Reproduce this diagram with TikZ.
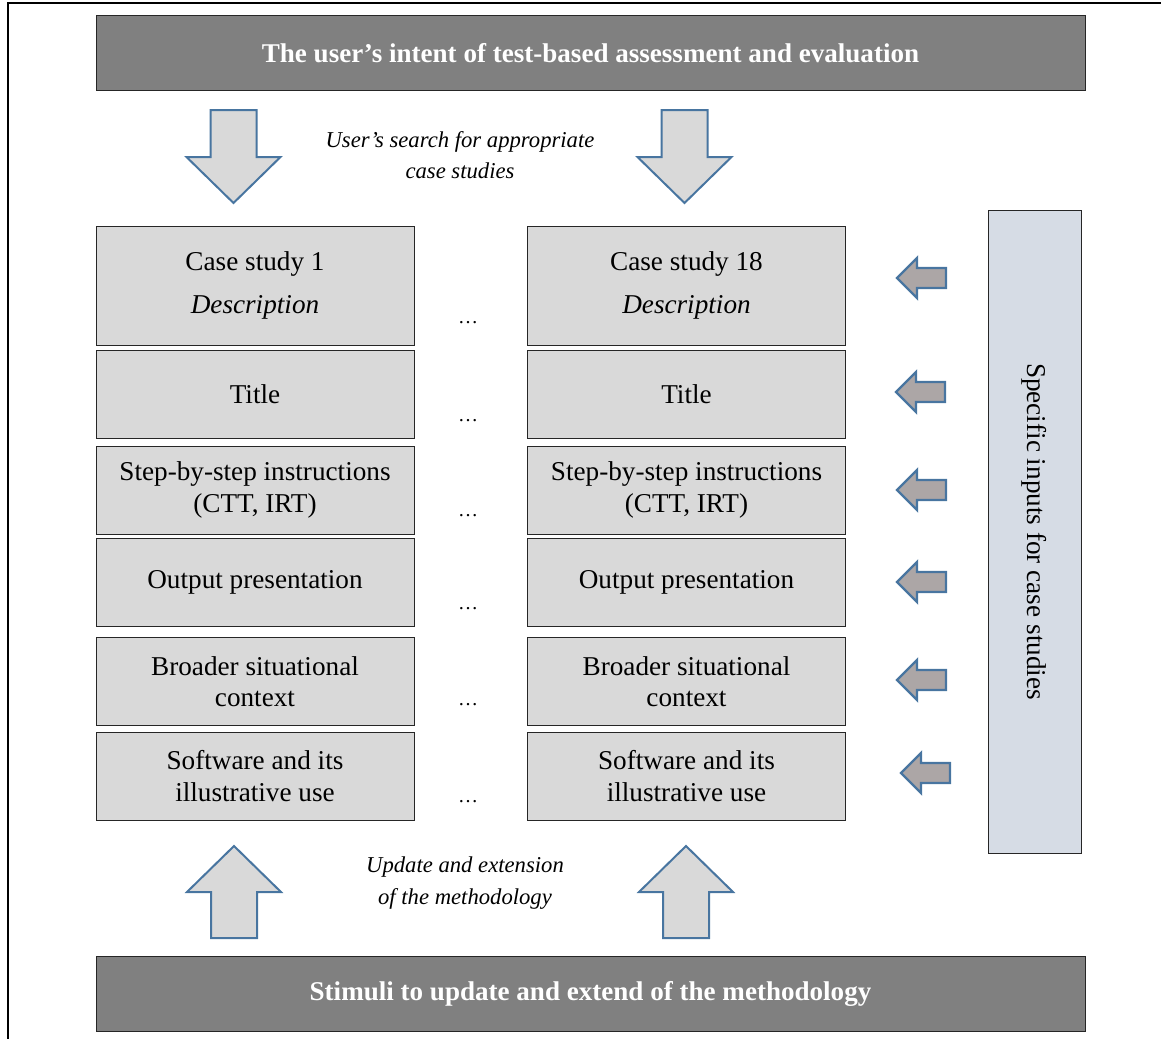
\documentclass[tikz,border=0pt]{standalone}
\usepackage{fontspec}
\setmainfont{Liberation Serif}
\usetikzlibrary{calc}
\definecolor{barGray}{RGB}{128,128,128}
\definecolor{boxGray}{RGB}{217,217,217}
\definecolor{panelBlue}{RGB}{214,220,229}
\definecolor{arrowBlue}{RGB}{72,117,160}
\definecolor{tipGray}{RGB}{172,166,166}

\begin{document}
\begin{tikzpicture}[x=0.75pt,y=-0.75pt,
    bar/.style={draw=black!85,fill=barGray,text=white,minimum width=741.75pt,minimum height=56.5pt,
      font=\fontsize{20.3}{24}\selectfont\bfseries},
    casebox/.style={draw=black!85,fill=boxGray,minimum width=238.5pt,minimum height=66pt,align=center,
      font=\fontsize{20.4}{23.5}\selectfont},
    bigarrow/.style={draw=arrowBlue,line width=1.5pt,fill=boxGray,line join=miter},
    smallarrow/.style={draw=arrowBlue,line width=1.8pt,fill=tipGray,line join=miter},
    note/.style={align=center,font=\fontsize{17}{23.5}\selectfont\itshape}]
  \useasboundingbox (0,0) rectangle (1161,1039);
  % outer frame
  \draw[line width=1pt] (1161,3) -- (8,3) -- (8,1039);

  \node[bar] (intent) at (590.5,53) {The user’s intent of test-based assessment and evaluation};
  \node[bar] (stimuli) at (590.5,993.5) {Stimuli to update and extend of the methodology};

  % columns of case studies
  \foreach \side/\num/\xc in {L/1/255,R/18/686.5}{
    \node[casebox,minimum height=89.25pt] (\side1) at (\xc,285.5) {Case study \num\\[8.5pt]\textit{Description}};
    \foreach \yc/\txt [count=\i from 2] in {394/Title,490/{Step-by-step instructions\\(CTT, IRT)},
        582/Output presentation,681.5/{Broader situational\\context},776/{Software and its\\illustrative use}}
      \node[casebox] (\side\i) at (\xc,\yc) {\txt};
  }
  \foreach \yc [count=\i] in {323,421,516,609,705,802}
    \node[font=\fontsize{15}{18}\selectfont] (dots\i) at (468,\yc) {\ldots};

  % big block arrows
  \foreach \xc in {233.5,684.5}
    \draw[bigarrow] (\xc-23,110) -- (\xc+23,110) -- (\xc+23,157) -- (\xc+47,157) -- (\xc,203)
      -- (\xc-47,157) -- (\xc-23,157) -- cycle;
  \foreach \xc in {234,686}
    \draw[bigarrow] (\xc-23,938) -- (\xc+23,938) -- (\xc+23,892) -- (\xc+47,892) -- (\xc,846)
      -- (\xc-47,892) -- (\xc-23,892) -- cycle;
  \node[note] (search) at (460,155) {User’s search for appropriate\\case studies};
  \node[note] (update) at (465,883) {Update and extension\\of the methodology};

  % inputs panel
  \node[draw=black!85,fill=panelBlue,rotate=-90,minimum width=482.25pt,minimum height=69.75pt,
    font=\fontsize{20.4}{24}\selectfont] (inputs) at (1034.5,531.5) {Specific inputs for case studies};
  \foreach \yc/\dx in {278/0,392/-1,490/0,582/0,680/0,773/4}
    \draw[smallarrow] (897+\dx,\yc) -- (917+\dx,\yc-20) -- (917+\dx,\yc-10) -- (946+\dx,\yc-10)
      -- (946+\dx,\yc+10) -- (917+\dx,\yc+10) -- (917+\dx,\yc+20) -- cycle;
\end{tikzpicture}
\end{document}
